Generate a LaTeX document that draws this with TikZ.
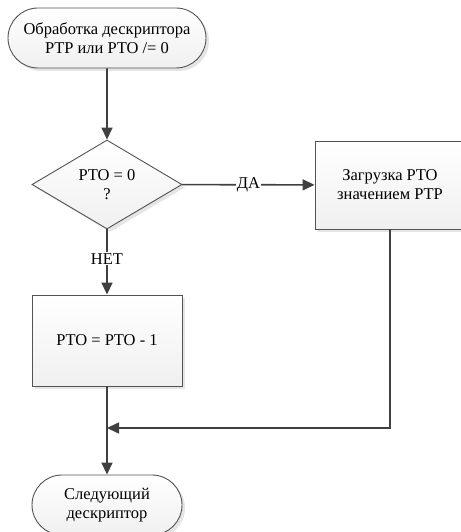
\documentclass[tikz,border=0pt]{standalone}
\usepackage{fontspec}
\setmainfont{Liberation Serif}
\usetikzlibrary{shapes.geometric,shapes.misc,shadows,arrows.meta}
\definecolor{ln}{HTML}{404040}
\begin{document}
\begin{tikzpicture}[x=1pt,y=-1pt,
  shp/.style={draw=ln!90, line width=0.9pt, top color=white, bottom color=gray!12,
    drop shadow={shadow xshift=3pt, shadow yshift=-3pt, fill=gray!20, opacity=1},
    font=\fontsize{16.5}{19}\selectfont, align=center, inner sep=0pt},
  term/.style={shp, rounded rectangle},
  proc/.style={shp, rectangle},
  dec/.style={shp, diamond},
  conn/.style={draw=ln, line width=1.6pt},
  arr/.style={conn, -{Triangle[length=12pt,width=11pt]}},
  lbl/.style={font=\fontsize{16.5}{19}\selectfont, fill=white, inner sep=1pt}]
\useasboundingbox (0,0) rectangle (460,532);
\node[term, minimum width=198pt, minimum height=60pt] (start) at (107,38) {Обработка дескриптора\\PTP или PTO /= 0};
\node[dec, minimum width=150pt, minimum height=89pt] (dec) at (107,184.5) {PTO = 0\\?};
\node[proc, minimum width=150pt, minimum height=88pt] (load) at (390,185) {Загрузка PTO\\значением PTP};
\node[proc, minimum width=150pt, minimum height=91pt] (dec1) at (107,340.5) {PTO = PTO - 1};
\node[term, minimum width=150pt, minimum height=60pt] (end) at (107,505) {Следующий\\дескриптор};
\coordinate (join) at (107,428);
\draw[arr] (start) -- (dec);
\draw[arr] (dec) -- node[lbl] {ДА} (load);
\draw[arr] (dec) -- node[lbl, pos=0.45] {НЕТ} (dec1);
\draw[conn] (dec1) -- (join);
\draw[arr] (load.south) |- (join);
\draw[arr] (join) -- (end);
\end{tikzpicture}
\end{document}
